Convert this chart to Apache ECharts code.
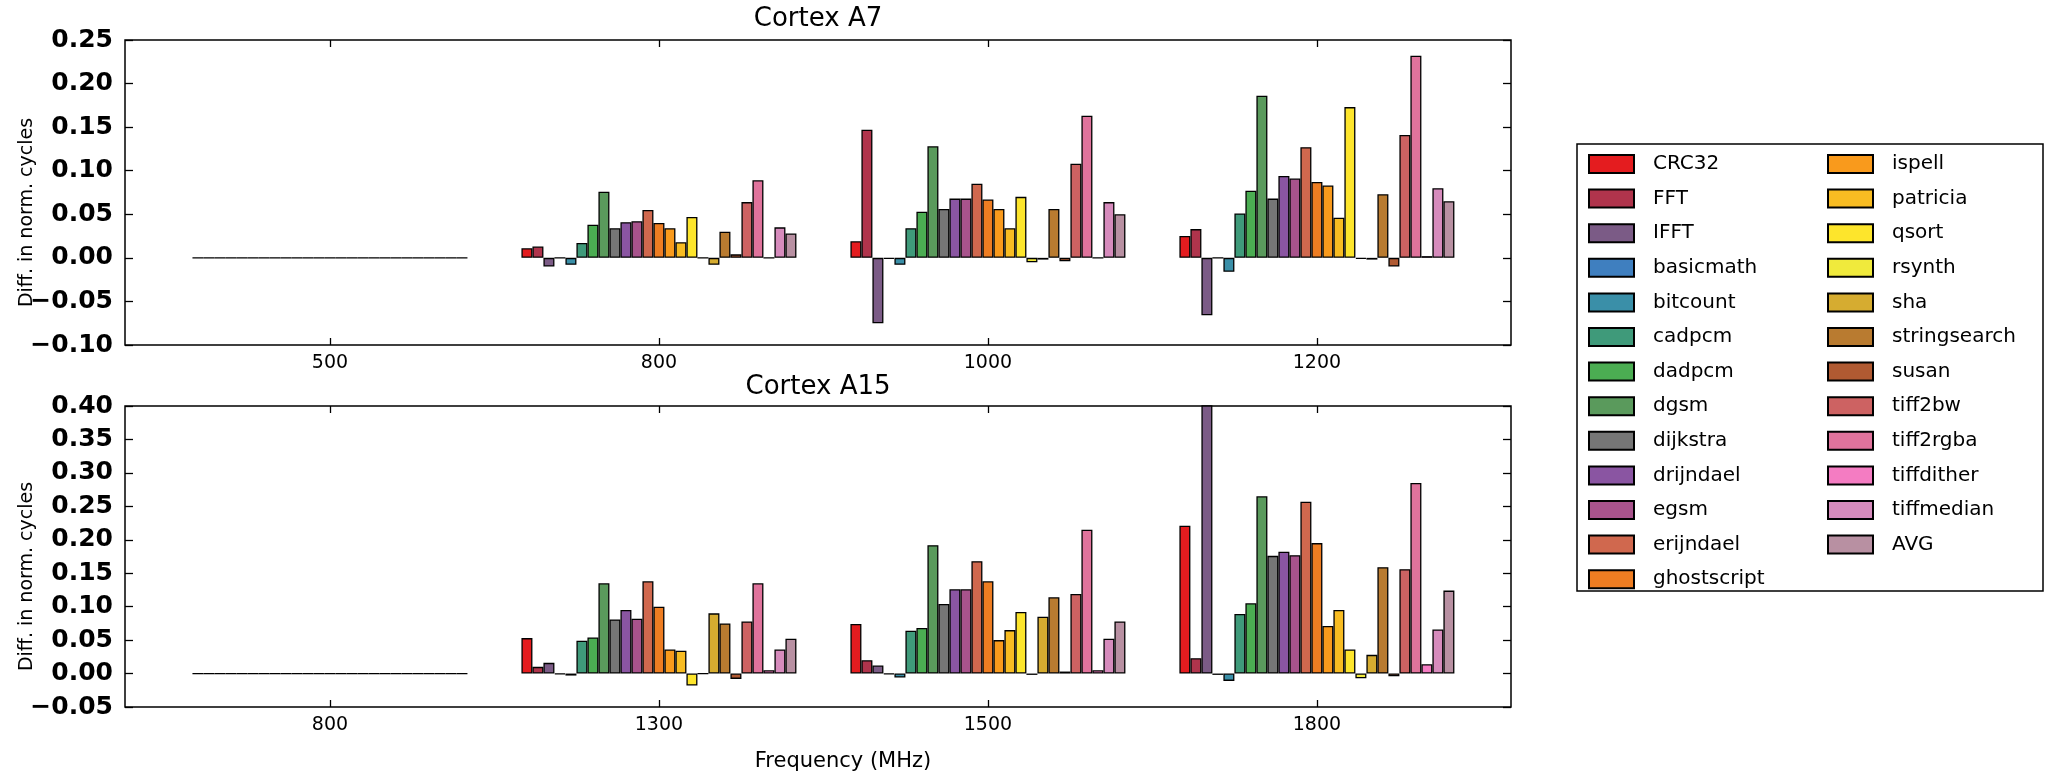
<!doctype html>
<html>
<head>
<meta charset="utf-8">
<title>Cortex A7 / A15</title>
<script src="https://cdn.jsdelivr.net/npm/echarts@6/dist/echarts.min.js"></script>
<style>
  html, body { margin: 0; padding: 0; background: #fff; }
  #chart { width: 2052px; height: 773px; }
</style>
</head>
<body>
<div id="chart"></div>
<script>
// frequencies (x groups)
var a7Freqs = ['500', '800', '1000', '1200'];
var a15Freqs = ['800', '1300', '1500', '1800'];

var benchmarks = ['CRC32', 'FFT', 'IFFT', 'basicmath', 'bitcount', 'cadpcm', 'dadpcm', 'dgsm',
  'dijkstra', 'drijndael', 'egsm', 'erijndael', 'ghostscript', 'ispell', 'patricia', 'qsort',
  'rsynth', 'sha', 'stringsearch', 'susan', 'tiff2bw', 'tiff2rgba', 'tiffdither', 'tiffmedian', 'AVG'];

// Cortex A7, one array per frequency (benchmark order as above)
var a7_500  = [0, 0, 0, 0, 0, 0, 0, 0, 0, 0, 0, 0, 0, 0, 0, 0, 0, 0, 0, 0, 0, 0, 0, 0, 0];
var a7_800  = [0.011, 0.013, -0.010, 0.000, -0.008, 0.017, 0.038, 0.076, 0.034, 0.041, 0.042, 0.055, 0.040,
               0.034, 0.018, 0.047, 0.000, -0.008, 0.030, 0.004, 0.064, 0.089, 0.000, 0.035, 0.028];
var a7_1000 = [0.019, 0.147, -0.075, -0.001, -0.008, 0.034, 0.053, 0.128, 0.056, 0.068, 0.068, 0.085, 0.067,
               0.056, 0.034, 0.070, -0.005, -0.002, 0.056, -0.004, 0.108, 0.163, 0.000, 0.064, 0.050];
var a7_1200 = [0.025, 0.033, -0.066, 0.000, -0.016, 0.051, 0.077, 0.186, 0.068, 0.094, 0.091, 0.127, 0.087,
               0.083, 0.046, 0.173, -0.001, -0.002, 0.073, -0.010, 0.141, 0.232, 0.002, 0.080, 0.065];

// Cortex A15
var a15_800  = [0, 0, 0, 0, 0, 0, 0, 0, 0, 0, 0, 0, 0, 0, 0, 0, 0, 0, 0, 0, 0, 0, 0, 0, 0];
var a15_1300 = [0.053, 0.010, 0.016, -0.001, -0.003, 0.049, 0.054, 0.135, 0.081, 0.095, 0.082, 0.138, 0.100,
                0.036, 0.034, -0.018, 0.000, 0.090, 0.075, -0.008, 0.078, 0.135, 0.005, 0.036, 0.052];
var a15_1500 = [0.074, 0.020, 0.012, -0.001, -0.006, 0.064, 0.068, 0.192, 0.104, 0.126, 0.126, 0.168, 0.138,
                0.050, 0.065, 0.092, -0.002, 0.085, 0.114, 0.003, 0.119, 0.215, 0.005, 0.052, 0.078];
var a15_1800 = [0.221, 0.023, 0.410, -0.002, -0.011, 0.089, 0.105, 0.265, 0.176, 0.182, 0.177, 0.257, 0.195,
                0.071, 0.095, 0.036, -0.007, 0.028, 0.159, -0.004, 0.156, 0.285, 0.014, 0.066, 0.124];

var palette = ['#e41c1f', '#b0344c', '#7b5b86', '#3f7fbf', '#3a8fa8', '#3f9a7a', '#4bad52', '#5a9a5c',
  '#767676', '#8a55a2', '#a8538c', '#d0684e', '#ee7d22', '#f99a1c', '#f8bc22', '#fde52c',
  '#f0ea3c', '#d6ac30', '#b97b30', '#b05a32', '#cd6262', '#e0739c', '#f47cc2', '#d68bbc', '#b890a2'];

var a7Groups = [a7_500, a7_800, a7_1000, a7_1200];
var a15Groups = [a15_800, a15_1300, a15_1500, a15_1800];

var fmtY = function (v) {
  return (v < -1e-9 ? '\u2212' : '') + Math.abs(v).toFixed(2);
};

var tickFont = { fontFamily: 'DejaVu Sans', fontSize: 25, fontWeight: 'bold', color: '#000' };
var tickLine = { color: '#000', width: 1.3 };

function xAxes(gridIndex, freqs, withName) {
  return [{
    gridIndex: gridIndex, type: 'value', min: -0.623, max: 3.59, position: 'bottom',
    axisLine: { show: false, onZero: false }, splitLine: { show: false },
    axisTick: { inside: true, length: 7, customValues: [0, 1, 2, 3], lineStyle: tickLine },
    axisLabel: { customValues: [0, 1, 2, 3], margin: 9, fontFamily: 'DejaVu Sans', fontSize: 19, color: '#000',
      formatter: function (v) { return freqs[Math.round(v)]; } },
    name: withName ? 'Frequency (MHz)' : '', nameLocation: 'middle', nameGap: 44, nameMoveOverlap: false,
    nameTextStyle: { fontFamily: 'DejaVu Sans', fontSize: 21, color: '#000', padding: [0, 0, 0, 50] }
  }, {
    gridIndex: gridIndex, type: 'value', min: -0.623, max: 3.59, position: 'top',
    axisLine: { show: false, onZero: false }, splitLine: { show: false },
    axisTick: { inside: true, length: 7, customValues: [0, 1, 2, 3], lineStyle: tickLine },
    axisLabel: { show: false }
  }];
}

function yAxes(gridIndex, min, max) {
  return [{
    gridIndex: gridIndex, type: 'value', min: min, max: max, interval: 0.05, position: 'left',
    axisLine: { show: false, onZero: false }, splitLine: { show: false },
    axisTick: { show: true, inside: true, length: 8, lineStyle: tickLine },
    axisLabel: Object.assign({ formatter: fmtY, margin: 12 }, tickFont),
    name: 'Diff. in norm. cycles', nameLocation: 'middle', nameGap: 88, nameMoveOverlap: false,
    nameTextStyle: { fontFamily: 'DejaVu Sans', fontSize: 19, color: '#000', padding: [0, 40, 0, 0] }
  }, {
    gridIndex: gridIndex, type: 'value', min: min, max: max, interval: 0.05, position: 'right',
    axisLine: { show: false, onZero: false }, splitLine: { show: false },
    axisTick: { show: true, inside: true, length: 8, lineStyle: tickLine },
    axisLabel: { show: false }
  }];
}

var series = [];
function addSeries(groups, xIdx, yIdx) {
  benchmarks.forEach(function (name, b) {
    series.push({
      name: name, type: 'bar', xAxisIndex: xIdx, yAxisIndex: yIdx,
      barWidth: 11, barGap: '0%', clip: true,
      itemStyle: { color: palette[b], borderColor: '#000', borderWidth: 1.3 },
      data: groups.map(function (g, i) { return [i, g[b]]; })
    });
  });
}
addSeries(a7Groups, 0, 0);
addSeries(a15Groups, 2, 2);

var legendText = { fontFamily: 'DejaVu Sans', fontSize: 20, color: '#000', padding: [0, 0, 0, 14] };

var option = {
  animation: false,
  backgroundColor: '#fff',
  title: [
    { text: 'Cortex A7', left: 818, top: 6, textAlign: 'center', padding: 0,
      textStyle: { fontFamily: 'DejaVu Sans', fontSize: 26, fontWeight: 'normal', color: '#000' } },
    { text: 'Cortex A15', left: 818, top: 374, textAlign: 'center', padding: 0,
      textStyle: { fontFamily: 'DejaVu Sans', fontSize: 26, fontWeight: 'normal', color: '#000' } }
  ],
  grid: [
    { left: 125, width: 1386, top: 40, height: 305, show: true, borderColor: '#000', borderWidth: 1.5, backgroundColor: 'transparent' },
    { left: 125, width: 1386, top: 406, height: 307, show: true, borderColor: '#000', borderWidth: 1.5, backgroundColor: 'transparent' }
  ],
  xAxis: xAxes(0, a7Freqs, false).concat(xAxes(1, a15Freqs, true)),
  yAxis: yAxes(0, -0.10, 0.25).concat(yAxes(1, -0.05, 0.40)),
  legend: [
    { data: benchmarks.slice(0, 13), orient: 'vertical', left: 1588, top: 154, padding: 0,
      icon: 'rect', itemWidth: 45, itemHeight: 18, itemGap: 14.6, selectedMode: false, textStyle: legendText },
    { data: benchmarks.slice(13), orient: 'vertical', left: 1827, top: 154, padding: 0,
      icon: 'rect', itemWidth: 45, itemHeight: 18, itemGap: 14.6, selectedMode: false, textStyle: legendText }
  ],
  graphic: [
    { type: 'rect', shape: { x: 1577, y: 144, width: 466, height: 447 },
      style: { fill: 'none', stroke: '#000', lineWidth: 1.5 }, z: 10 }
  ],
  series: series
};

var chart = echarts.init(document.getElementById('chart'), null, { renderer: 'canvas' });
chart.setOption(option);
</script>
</body>
</html>
